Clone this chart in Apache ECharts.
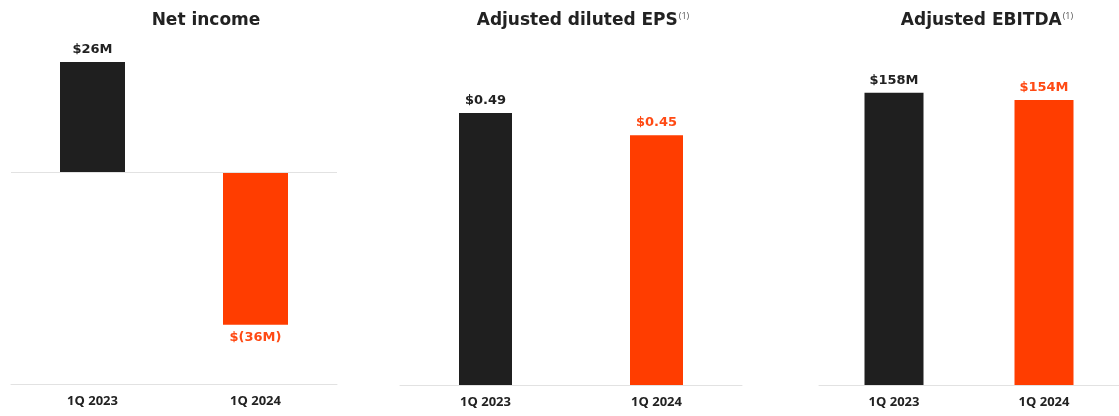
<!DOCTYPE html>
<html>
<head>
<meta charset="utf-8">
<script src="https://cdn.jsdelivr.net/npm/echarts@6/dist/echarts.min.js"></script>
<style>
  html, body { margin: 0; padding: 0; background: #fff; }
  #main { width: 1119px; height: 416px; }
</style>
</head>
<body>
<div id="main"></div>
<script>
// data
const quarters = ['1Q 2023', '1Q 2024'];
const netIncome = [26, -36];
const adjEps = [0.49, 0.45];
const adjEbitda = [158, 154];

const netIncomeLabels = ['$26M', '$(36M)'];
const adjEpsLabels = ['$0.49', '$0.45'];
const adjEbitdaLabels = ['$158M', '$154M'];

const BLACK = '#1f1f1f';
const ORANGE = '#ff3d00';
const FONT = 'DejaVu Sans';
const LABEL_FONT = 'Open Sans';

const chart = echarts.init(document.getElementById('main'));

// build bar data, black for last year, orange for this year
function bars(values, labels) {
  return values.map(function (v, i) {
    return {
      value: v,
      itemStyle: { color: i === 0 ? BLACK : ORANGE },
      label: {
        show: true,
        position: v < 0 ? 'bottom' : 'top',
        distance: 6,
        formatter: labels[i],
        color: i === 0 ? '#222' : '#ff4a14',
        fontFamily: FONT,
        fontWeight: 700,
        fontSize: 13
      }
    };
  });
}

function xAxis(gridIndex) {
  return {
    type: 'category',
    gridIndex: gridIndex,
    data: quarters,
    axisLine: { onZero: false, lineStyle: { color: '#e2e2e2', width: 1 } },
    axisTick: { show: false },
    axisLabel: { margin: 11, color: '#222', fontFamily: LABEL_FONT, fontWeight: 700, fontSize: 13 }
  };
}

function yAxis(gridIndex, min, max) {
  return {
    type: 'value',
    gridIndex: gridIndex,
    min: min,
    max: max,
    show: false,
    splitLine: { show: false }
  };
}

const titleStyle = {
  fontFamily: FONT,
  fontWeight: 700,
  fontSize: 17,
  color: '#222',
  rich: {
    t: { fontFamily: FONT, fontWeight: 700, fontSize: 17, color: '#222' },
    s: { fontFamily: LABEL_FONT, fontWeight: 400, fontSize: 9, color: '#555', verticalAlign: 'top', padding: [0, 0, 9, 1] }
  }
};

const option = {
  animation: false,
  title: [
    { text: 'Net income', left: 201, top: 7, textAlign: 'center', textStyle: titleStyle },
    { text: '{t|Adjusted diluted EPS}{s|(1)}', left: 578, top: 7, textAlign: 'center', textStyle: titleStyle },
    { text: '{t|Adjusted EBITDA}{s|(1)}', left: 982, top: 7, textAlign: 'center', textStyle: titleStyle }
  ],
  grid: [
    { left: 11, width: 326, top: 45, bottom: 32 },
    { left: 400, width: 342, top: 52, bottom: 31 },
    { left: 819, width: 301, top: 15, bottom: 31 }
  ],
  xAxis: [xAxis(0), xAxis(1), xAxis(2)],
  yAxis: [yAxis(0, -50, 30), yAxis(1, 0, 0.6), yAxis(2, 0, 200)],
  series: [
    {
      type: 'bar',
      xAxisIndex: 0,
      yAxisIndex: 0,
      barWidth: 65,
      data: bars(netIncome, netIncomeLabels),
      markLine: {
        silent: true,
        symbol: 'none',
        label: { show: false },
        lineStyle: { color: '#e2e2e2', width: 1, type: 'solid' },
        data: [{ yAxis: 0 }]
      }
    },
    {
      type: 'bar',
      xAxisIndex: 1,
      yAxisIndex: 1,
      barWidth: 53,
      data: bars(adjEps, adjEpsLabels)
    },
    {
      type: 'bar',
      xAxisIndex: 2,
      yAxisIndex: 2,
      barWidth: 59,
      data: bars(adjEbitda, adjEbitdaLabels)
    }
  ]
};

chart.setOption(option);
</script>
</body>
</html>
